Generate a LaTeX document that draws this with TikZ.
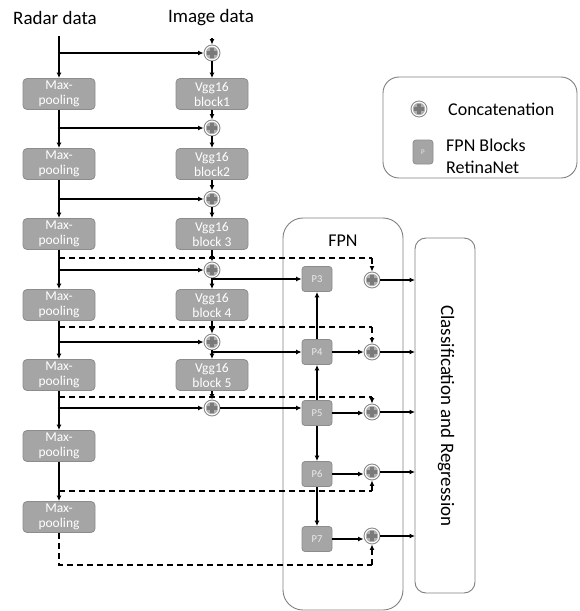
\documentclass[tikz,border=0pt]{standalone}
\usepackage{fontspec}
\setmainfont{Carlito}
\usetikzlibrary{arrows.meta,calc}
\definecolor{boxgray}{HTML}{A5A5A5}
\definecolor{boxedge}{HTML}{8C8C8C}
\definecolor{framegray}{HTML}{7F7F7F}
\definecolor{catring}{HTML}{8A8A8A}
\definecolor{catfill}{HTML}{B0B0B0}
\definecolor{catplus}{HTML}{7A7A7A}
\tikzset{
  mpbox/.style={rectangle, rounded corners=4pt, fill=boxgray, draw=boxedge, line width=0.8pt,
    minimum width=72pt, minimum height=31pt, text=white, align=center,
    font=\fontsize{13.5}{15}\selectfont, inner sep=0pt},
  pbox/.style={rectangle, rounded corners=3pt, fill=boxgray, draw=boxedge, line width=0.8pt,
    minimum width=30pt, minimum height=25pt, text=white!92!black,
    font=\fontsize{10.5}{12}\selectfont, inner sep=0pt},
  cat/.style={circle, minimum size=16pt, inner sep=0pt, draw=catring, fill=white, line width=0.9pt,
    path picture={
      \fill[catfill] (path picture bounding box.center) circle (6.2pt);
      \draw[catplus, line width=3.2pt] ($(path picture bounding box.center)+(-4.6pt,0)$) -- ($(path picture bounding box.center)+(4.6pt,0)$);
      \draw[catplus, line width=3.2pt] ($(path picture bounding box.center)+(0,-4.6pt)$) -- ($(path picture bounding box.center)+(0,4.6pt)$);
    }},
  arr/.style={line width=1.3pt, -{Latex[length=5.5pt,width=5pt]}},
  ln/.style={line width=1.3pt},
  dsh/.style={line width=1.3pt, dash pattern=on 6pt off 4pt},
  frame/.style={draw=framegray, line width=0.9pt},
  bigtxt/.style={font=\fontsize{19}{22}\selectfont, inner sep=0pt},
  midtxt/.style={font=\fontsize{18}{22}\selectfont, inner sep=0pt},
}
\begin{document}
\begin{tikzpicture}[x=1pt,y=-1pt]
\useasboundingbox (0,0) rectangle (580,611);

% frames
\draw[frame, rounded corners=20pt] (283,218) rectangle (403,610);
\draw[frame, rounded corners=11pt] (415,238) rectangle (475,593);
\draw[frame, rounded corners=16pt] (383,77) rectangle (577,178);
\node[midtxt] (fpnlab) at (343,241) {FPN};
\node[bigtxt, rotate=-90] (clslab) at (446,416) {Classification and Regression};
\coordinate (clsw) at (415,300);

% titles
\node[bigtxt] (radar) at (55,18) {Radar data};
\node[bigtxt] (image) at (211,18) {Image data};
\coordinate (rtop) at (59,36);
\coordinate (itop) at (212,38);

% radar column
\node[mpbox] (m1) at (59,94) {Max-\\pooling};
\node[mpbox] (m2) at (59,164) {Max-\\pooling};
\node[mpbox] (m3) at (59,234) {Max-\\pooling};
\node[mpbox] (m4) at (59,305) {Max-\\pooling};
\node[mpbox] (m5) at (59,375) {Max-\\pooling};
\node[mpbox] (m6) at (59,446) {Max-\\pooling};
\node[mpbox] (m7) at (59,517) {Max-\\pooling};

% vgg column
\node[mpbox] (v1) at (212,94) {Vgg16\\block1};
\node[mpbox] (v2) at (212,164) {Vgg16\\block2};
\node[mpbox] (v3) at (212,234) {Vgg16\\block 3};
\node[mpbox] (v4) at (212,305) {Vgg16\\block 4};
\node[mpbox] (v5) at (212,375) {Vgg16\\block 5};

% concatenations
\node[cat] (c1) at (212,53) {};
\node[cat] (c2) at (212,128) {};
\node[cat] (c3) at (212,199) {};
\node[cat] (c4) at (212,270) {};
\node[cat] (c5) at (212,342) {};
\node[cat] (c6) at (212,408) {};

% FPN blocks
\node[pbox] (p3) at (317,279) {P3};
\node[pbox] (p4) at (317,352) {P4};
\node[pbox] (p5) at (317,413) {P5};
\node[pbox] (p6) at (317,474) {P6};
\node[pbox] (p7) at (317,539) {P7};

% right concatenations
\node[cat] (r3) at (372,280) {};
\node[cat] (r4) at (372,352) {};
\node[cat] (r5) at (372,412) {};
\node[cat] (r6) at (372,472) {};
\node[cat] (r7) at (372,536) {};

% dashed corner points
\coordinate (d3) at (372,258);
\coordinate (d4) at (372,327);
\coordinate (d5) at (372,397);
\coordinate (d6) at (372,491);
\coordinate (d7) at (372,565);

% legend
\node[cat] (lc) at (419,109) {};
\node[midtxt, anchor=west] (lct) at (448,109) {Concatenation};
\node[pbox, minimum width=20pt, minimum height=24pt, font=\fontsize{7}{8}\selectfont] (lp) at (423,152) {P};
\node[midtxt, anchor=west, align=left, font=\fontsize{18}{22}\selectfont] (lpt) at (446,156) {FPN Blocks\\RetinaNet};

% radar/image input
\draw[arr] (rtop) -- (m1.north);
\draw[arr] (c1 -| rtop) -- (c1.west);
\draw[arr] (itop) -- (c1.north);
\draw[arr] (c1.south) -- (v1.north);

% block chain 1-3
\draw[arr] (m1.south) -- (m2.north);
\draw[arr] (c2 -| m1) -- (c2.west);
\draw[arr] (v1.south) -- (c2.north);
\draw[arr] (c2.south) -- (v2.north);

\draw[arr] (m2.south) -- (m3.north);
\draw[arr] (c3 -| m2) -- (c3.west);
\draw[arr] (v2.south) -- (c3.north);
\draw[arr] (c3.south) -- (v3.north);

% 3 -> 4
\draw[arr] (m3.south) -- (m4.north);
\draw[arr] (c4 -| m3) -- (c4.west);
\draw[arr] (v3.south) -- (c4.north);
\draw[arr] (c4.south) -- (v4.north);
\draw[arr] (v4.north |- p3.west) -- (p3.west);
\draw[dsh] (m3.south |- d3) -- (d3);
\draw[arr, dsh] (d3) -- (r3.north);

% 4 -> 5
\draw[arr] (m4.south) -- (m5.north);
\draw[arr] (c5 -| m4) -- (c5.west);
\draw[arr] (v4.south) -- (c5.north);
\draw[arr] (c5.south) -- (v5.north);
\draw[arr] (v5.north |- p4.west) -- (p4.west);
\draw[dsh] (m4.south |- d4) -- (d4);
\draw[arr, dsh] (d4) -- (r4.north);

% 5 -> 6
\draw[arr] (m5.south) -- (m6.north);
\draw[arr] (c6 -| m5) -- (c6.west);
\draw[arr] (v5.south) -- (c6.north);
\draw[arr] (c6.east) -- (c6.east -| p5.west);
\draw[dsh] (m5.south |- d5) -- (d5);
\draw[arr, dsh] (d5) -- (r5.north);

% 6 -> 7
\draw[arr] (m6.south) -- (m7.north);
\draw[dsh] (m6.south |- d6) -- (d6);
\draw[arr, dsh] (d6) -- (r6.south);

% 7
\draw[dsh] (m7.south) -- (m7.south |- d7) -- (d7);
\draw[arr, dsh] (d7) -- (r7.south);

% FPN internal
\draw[arr] (p5.north) -- (p4.south);
\draw[arr] (p4.north) -- (p3.south);
\draw[arr] (p5.south) -- (p6.north);
\draw[arr] (p6.south) -- (p7.north);

\draw[arr] (p4.east) -- (r4.west);
\draw[arr] (p5.east) -- (r5.west |- p5.east);
\draw[arr] (p6.east) -- (r6.west |- p6.east);
\draw[arr] (p7.east) -- (r7.west |- p7.east);

% outputs
\draw[arr] (r3.east) -- (r3.east -| clsw);
\draw[arr] (r4.east) -- (r4.east -| clsw);
\draw[arr] (r5.east) -- (r5.east -| clsw);
\draw[arr] (r6.east) -- (r6.east -| clsw);
\draw[arr] (r7.east) -- (r7.east -| clsw);
\end{tikzpicture}
\end{document}
